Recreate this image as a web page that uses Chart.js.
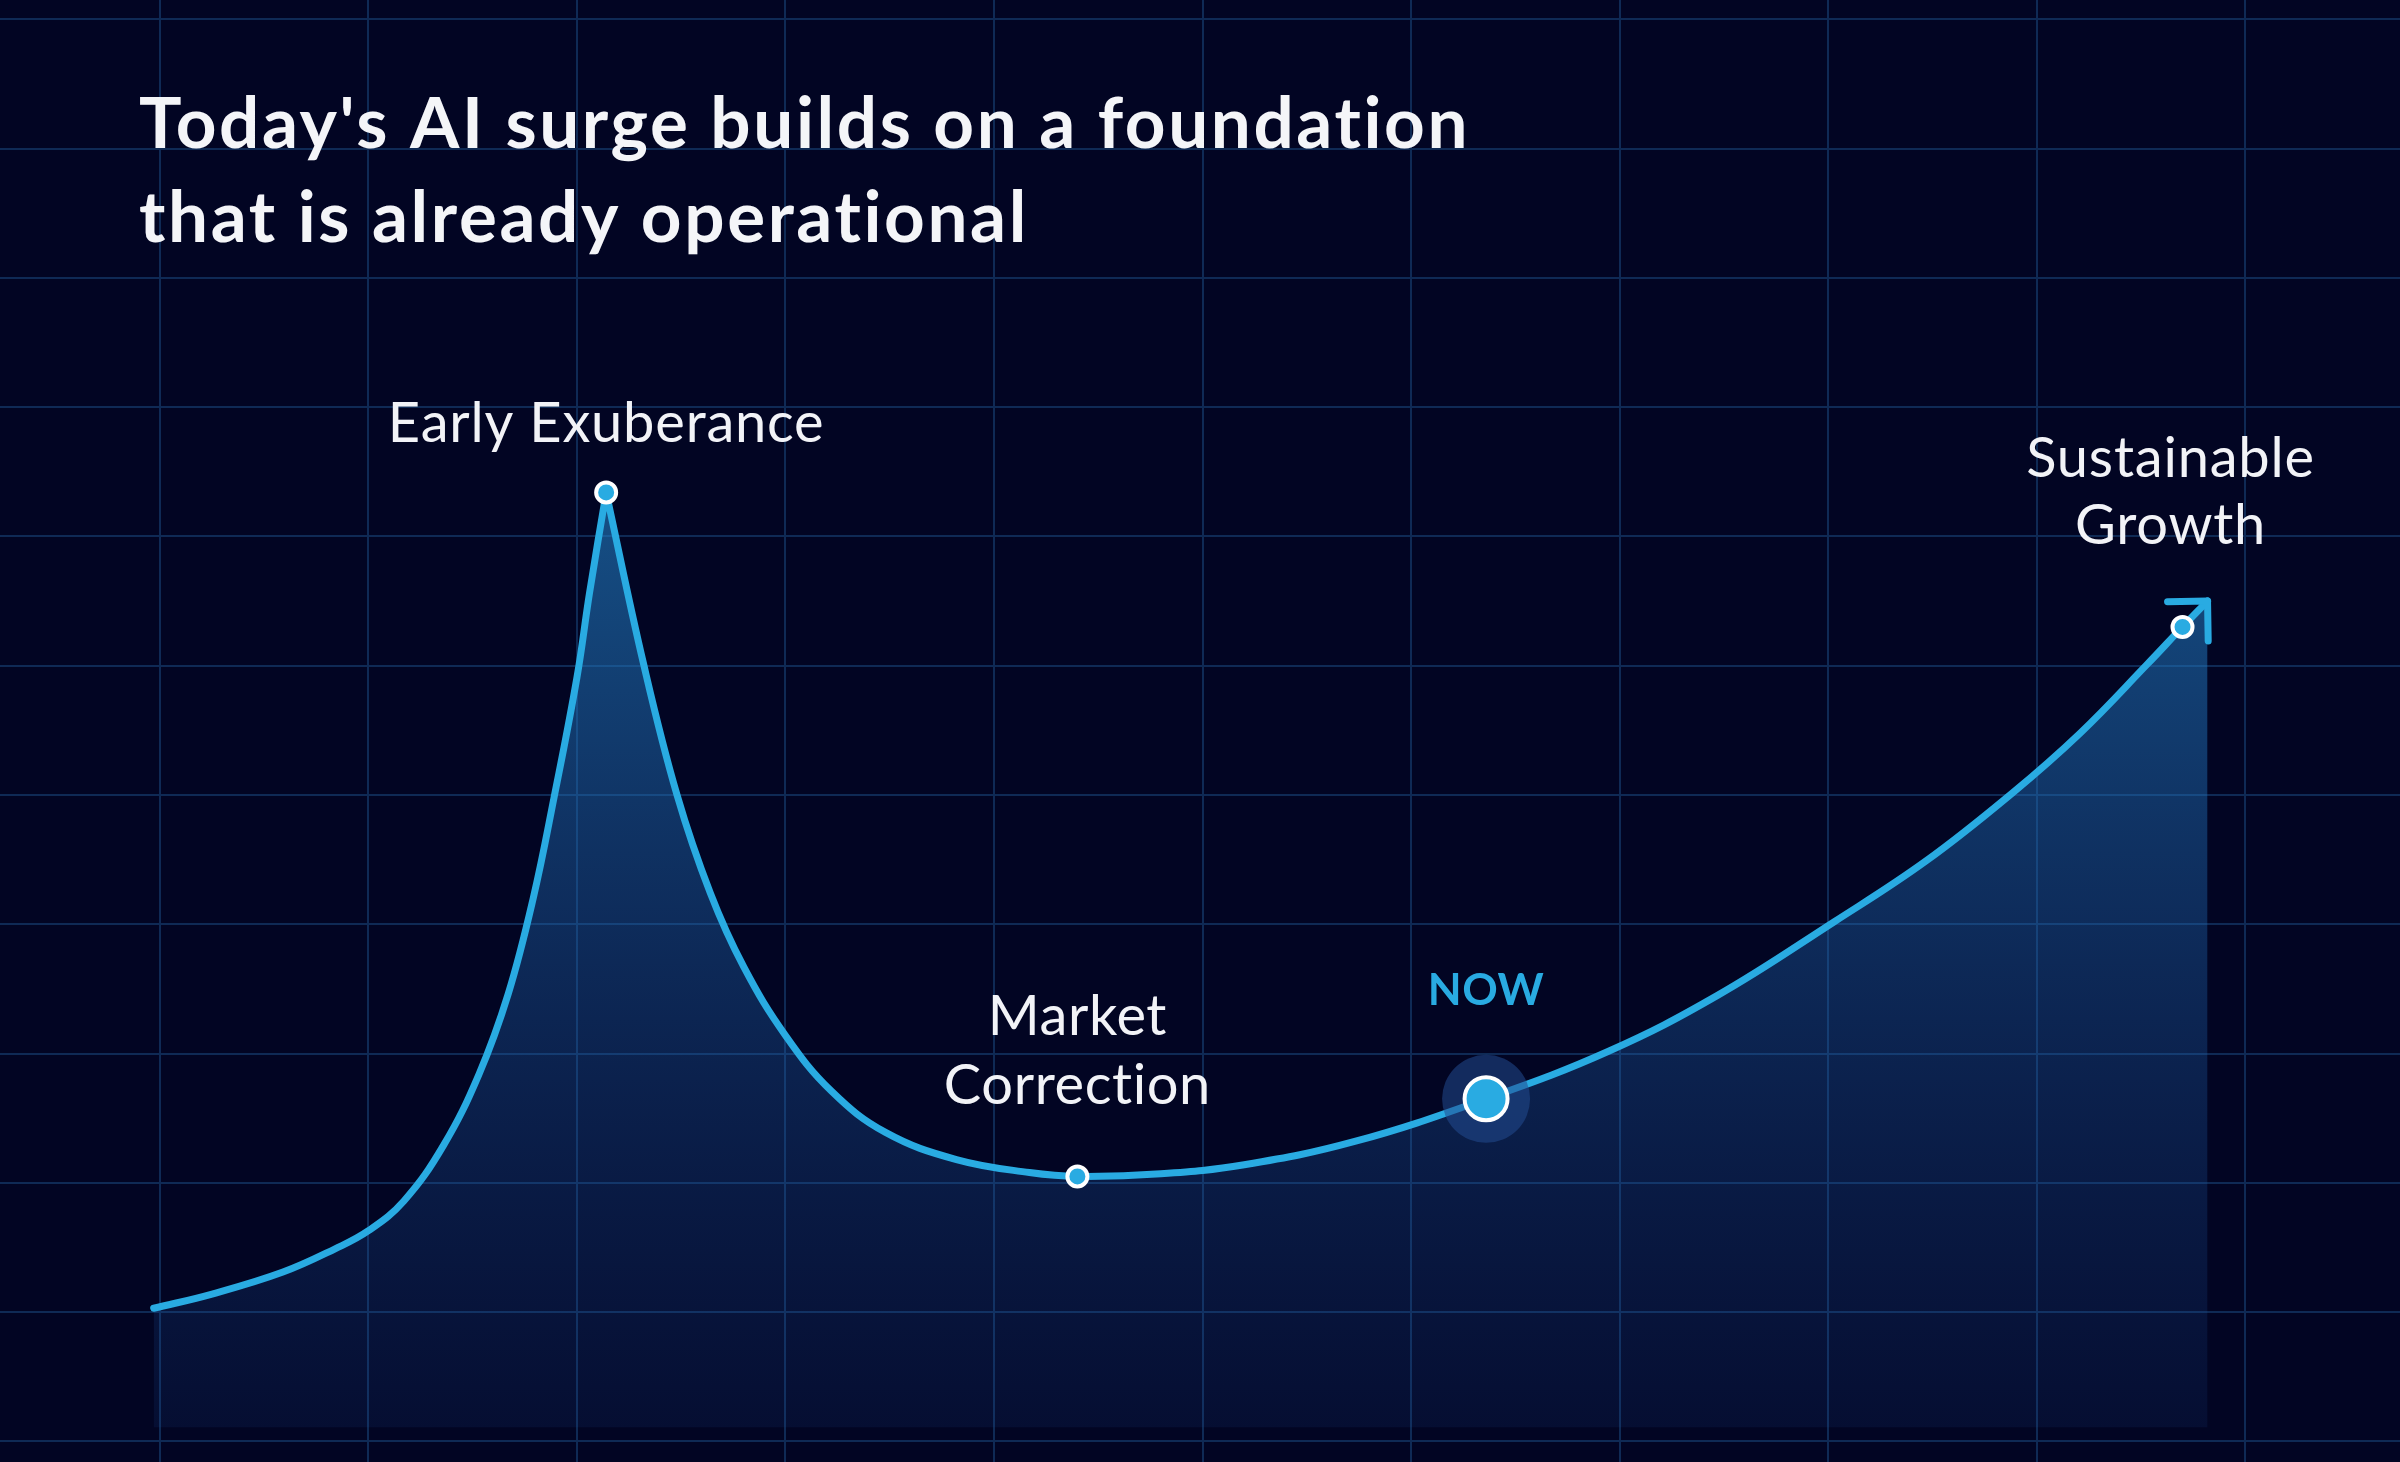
<!DOCTYPE html>
<html>
<head>
<meta charset="utf-8">
<script src="https://cdn.jsdelivr.net/npm/chart.js@4.4.1/dist/chart.umd.min.js"></script>
<style>
  html, body { margin: 0; padding: 0; background: #020523; }
  #wrap { position: relative; width: 2400px; height: 1462px; }
  canvas { display: block; }
</style>
</head>
<body>
<div id="wrap"><canvas id="c" width="2400" height="1462"></canvas></div>
<script>
// ---- Data (grid units: one unit = one background grid cell) ----
// The peak (index 13) is listed twice so the spline forms a sharp cusp there.
const phaseX = [-0.03, 0.25, 0.59, 0.84, 1.00, 1.17, 1.36, 1.53, 1.67, 1.79, 1.89, 2.00, 2.06, 2.14,
                2.14, 2.32, 2.48, 2.64, 2.80, 3.00, 3.22, 3.48, 3.82, 4.17, 4.40, 4.80, 5.20,
                5.73, 6.36, 6.95, 7.47, 8.03, 8.47, 8.88, 9.21, 9.53, 9.70, 9.82];
const levelY = [1.03, 1.14, 1.31, 1.49, 1.63, 1.86, 2.29, 2.84, 3.46, 4.20, 4.98, 5.91, 6.56, 7.34,
                7.34, 6.01, 5.00, 4.24, 3.67, 3.14, 2.71, 2.39, 2.18, 2.08, 2.05, 2.07, 2.14,
                2.32, 2.65, 3.02, 3.45, 4.02, 4.49, 5.01, 5.48, 6.01, 6.30, 6.50];
const milestoneIndex = [13, 24, 28, 36];
const milestoneLabels = [['Early Exuberance'], ['Market', 'Correction'], ['NOW'], ['Sustainable', 'Growth']];
const gridColumns = [0, 1, 2, 3, 4, 5, 6, 7, 8, 9, 10];
const gridRows = [0, 1, 2, 3, 4, 5, 6, 7, 8, 9, 10, 11];
const titleLines = ["Today's AI surge builds on a foundation", "that is already operational"];
const xRange = [-0.767, 10.743];
const yRange = [-0.159, 11.149];
const fillBase = 0.11;

// ---- Styles ----
const BG = '#020523';
const GRID = '#0f2a55';
const LINE = '#29abe2';
const LABEL_FONT = 'Lato, "Open Sans", sans-serif';

const points = phaseX.map((x, i) => ({ x: x, y: levelY[i] }));
const nowIdx = milestoneIndex[2];
const keyRadius = phaseX.map((_, i) => (milestoneIndex.includes(i) && i !== nowIdx) ? 10 : 0);

const backgroundPlugin = {
  id: 'bgGrid',
  beforeDraw(chart) {
    const c = chart.ctx;
    c.save();
    c.fillStyle = BG;
    c.fillRect(0, 0, chart.width, chart.height);
    c.restore();
  },
  beforeDatasetsDraw(chart) {
    const c = chart.ctx, xs = chart.scales.x, ys = chart.scales.y;
    c.save();
    c.strokeStyle = GRID;
    c.lineWidth = 2;
    gridColumns.forEach(v => {
      const px = Math.round(xs.getPixelForValue(v));
      c.beginPath(); c.moveTo(px, 0); c.lineTo(px, chart.height); c.stroke();
    });
    gridRows.forEach(v => {
      const py = Math.round(ys.getPixelForValue(v));
      c.beginPath(); c.moveTo(0, py); c.lineTo(chart.width, py); c.stroke();
    });
    c.restore();
  }
};

const arrowPlugin = {
  id: 'arrowHead',
  afterDatasetsDraw(chart) {
    const els = chart.getDatasetMeta(2).data;
    const a = els[els.length - 2], b = els[els.length - 1];
    const ang = Math.atan2(b.y - a.y, b.x - a.x);
    const len = 40;
    const c = chart.ctx;
    c.save();
    c.strokeStyle = LINE;
    c.lineWidth = 7;
    c.lineCap = 'round';
    c.lineJoin = 'round';
    c.beginPath();
    c.moveTo(b.x + len * Math.cos(ang + Math.PI * 0.75), b.y + len * Math.sin(ang + Math.PI * 0.75));
    c.lineTo(b.x, b.y);
    c.lineTo(b.x + len * Math.cos(ang - Math.PI * 0.75), b.y + len * Math.sin(ang - Math.PI * 0.75));
    c.stroke();
    c.restore();
  }
};

const labelPlugin = {
  id: 'milestoneLabels',
  afterDatasetsDraw(chart) {
    const c = chart.ctx;
    const els = chart.getDatasetMeta(2).data;
    const specs = [
      { dx: 0, lastDy: -50, lh: 69, font: '400 56px ' + LABEL_FONT, color: '#f2f3f7', ls: '0.8px' },
      { dx: 0, lastDy: -72, lh: 69, font: '400 56px ' + LABEL_FONT, color: '#f2f3f7', ls: '0.6px' },
      { dx: 0, lastDy: -94, lh: 0, font: '700 44px ' + LABEL_FONT, color: LINE, ls: '0.5px' },
      { dx: -12, lastDy: -83, lh: 67, font: '400 56px ' + LABEL_FONT, color: '#f2f3f7', ls: '0.8px' }
    ];
    c.save();
    c.textAlign = 'center';
    c.textBaseline = 'alphabetic';
    milestoneIndex.forEach((idx, k) => {
      const p = els[idx], s = specs[k], lines = milestoneLabels[k];
      c.font = s.font;
      c.letterSpacing = s.ls;
      c.fillStyle = s.color;
      lines.forEach((t, j) => {
        const y = p.y + s.lastDy - (lines.length - 1 - j) * s.lh;
        c.fillText(t, p.x + s.dx, y);
      });
    });
    c.restore();
  },
  afterDraw(chart) {
    const c = chart.ctx;
    c.save();
    c.font = '700 71px ' + LABEL_FONT;
    c.letterSpacing = '2.6px';
    c.fillStyle = '#f4f5f8';
    c.textAlign = 'left';
    c.textBaseline = 'alphabetic';
    titleLines.forEach((t, i) => c.fillText(t, 139, 148 + i * 94));
    c.restore();
  }
};

new Chart(document.getElementById('c'), {
  type: 'line',
  data: {
    datasets: [
      {
        label: 'now',
        data: [points[nowIdx]],
        showLine: false,
        pointRadius: 21.5,
        pointBorderWidth: 4,
        pointBackgroundColor: LINE,
        pointBorderColor: '#ffffff',
        order: 1
      },
      {
        label: 'halo',
        data: [points[nowIdx]],
        showLine: false,
        pointRadius: 44,
        pointBorderWidth: 0,
        pointBackgroundColor: 'rgba(35,74,144,0.55)',
        pointBorderColor: 'rgba(0,0,0,0)',
        order: 2
      },
      {
        label: 'cycle',
        data: points,
        borderColor: LINE,
        borderWidth: 7,
        borderCapStyle: 'round',
        borderJoinStyle: 'round',
        tension: 0.4,
        fill: { value: fillBase },
        backgroundColor: (ctx) => {
          const chart = ctx.chart;
          if (!chart.chartArea) return 'rgba(30,100,170,0.3)';
          const ys = chart.scales.y;
          const top = ys.getPixelForValue(Math.max(...levelY));
          const bot = ys.getPixelForValue(fillBase);
          const g = chart.ctx.createLinearGradient(0, top, 0, bot);
          g.addColorStop(0, 'rgba(35,130,200,0.6)');
          g.addColorStop(1, 'rgba(30,80,160,0.12)');
          return g;
        },
        pointRadius: keyRadius,
        pointBackgroundColor: LINE,
        pointBorderColor: '#ffffff',
        pointBorderWidth: 4,
        order: 3
      }
    ]
  },
  options: {
    responsive: false,
    animation: false,
    events: [],
    layout: { padding: 0, autoPadding: false },
    scales: {
      x: { type: 'linear', display: false, min: xRange[0], max: xRange[1] },
      y: { type: 'linear', display: false, min: yRange[0], max: yRange[1] }
    },
    plugins: { legend: { display: false }, tooltip: { enabled: false }, title: { display: false } }
  },
  plugins: [backgroundPlugin, arrowPlugin, labelPlugin]
});
</script>
</body>
</html>
